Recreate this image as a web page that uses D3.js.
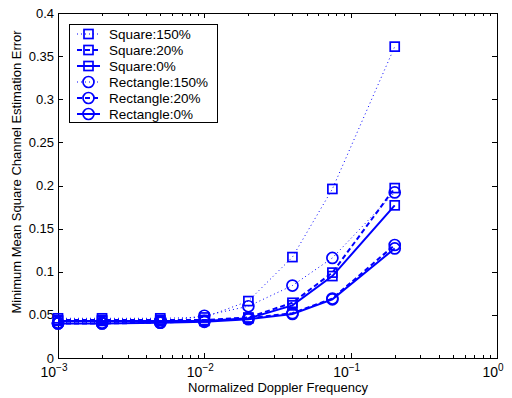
<!DOCTYPE html>
<html>
<head>
<meta charset="utf-8">
<script src="https://cdn.jsdelivr.net/npm/d3@7"></script>
<style>
  body { margin: 0; background: #fff; }
  text { font-family: "Liberation Sans", Arial, sans-serif; fill: #000; }
</style>
</head>
<body>
<div class="chart"></div>
<script>
const dopplerFreq = [0.001, 0.002, 0.005, 0.01, 0.02, 0.04, 0.075, 0.2];

const square150 = [0.046, 0.046, 0.046, 0.047, 0.066, 0.117, 0.196, 0.361];
const square20 = [0.044, 0.044, 0.044, 0.044, 0.047, 0.064, 0.099, 0.197];
const square0 = [0.043, 0.043, 0.043, 0.043, 0.046, 0.061, 0.095, 0.177];
const rect150 = [0.041, 0.041, 0.042, 0.049, 0.060, 0.084, 0.116, 0.192];
const rect20 = [0.040, 0.040, 0.041, 0.043, 0.046, 0.052, 0.069, 0.131];
const rect0 = [0.040, 0.040, 0.041, 0.042, 0.045, 0.051, 0.068, 0.127];

const seriesNames = ['Square:150%', 'Square:20%', 'Square:0%', 'Rectangle:150%', 'Rectangle:20%', 'Rectangle:0%'];
const seriesValues = [square150, square20, square0, rect150, rect20, rect0];
const seriesMarker = ['square', 'square', 'square', 'circle', 'circle', 'circle'];
const seriesDash = ['1,3', '5,3', null, '1,3', '5,3', null];

const yTicks = [0, 0.05, 0.1, 0.15, 0.2, 0.25, 0.3, 0.35, 0.4];
const xDecades = [-3, -2, -1, 0];

const width = 512, height = 398;
const margin = { left: 58, right: 15, top: 13, bottom: 40 };
const blue = '#0000ff';

const svg = d3.select('.chart')
    .append('svg')
    .attr('width', width)
    .attr('height', height);

const x = d3.scaleLog()
    .domain([0.001, 1])
    .range([margin.left, width - margin.right]);

const y = d3.scaleLinear()
    .domain([0, 0.4])
    .range([height - margin.bottom, margin.top]);

const x0 = x.range()[0], x1 = x.range()[1];
const y0 = y.range()[0], y1 = y.range()[1];

// minor ticks for the log axis
const minorTicks = [];
xDecades.slice(0, -1).forEach(p => {
    for (let k = 2; k <= 9; k++) minorTicks.push(k * Math.pow(10, p));
});

const axes = svg.append('g').attr('stroke', '#000').attr('stroke-width', 1);

minorTicks.forEach(v => {
    const px = Math.round(x(v)) + 0.5;
    axes.append('line').attr('x1', px).attr('x2', px).attr('y1', y0).attr('y2', y0 - 3);
    axes.append('line').attr('x1', px).attr('x2', px).attr('y1', y1).attr('y2', y1 + 3);
});
xDecades.forEach(p => {
    const px = Math.round(x(Math.pow(10, p))) + 0.5;
    axes.append('line').attr('x1', px).attr('x2', px).attr('y1', y0).attr('y2', y0 - 5);
    axes.append('line').attr('x1', px).attr('x2', px).attr('y1', y1).attr('y2', y1 + 5);
});
yTicks.forEach(v => {
    const py = Math.round(y(v)) + 0.5;
    axes.append('line').attr('x1', x0).attr('x2', x0 + 5).attr('y1', py).attr('y2', py);
    axes.append('line').attr('x1', x1).attr('x2', x1 - 5).attr('y1', py).attr('y2', py);
});

axes.append('rect')
    .attr('x', x0 + 0.5).attr('y', y1 + 0.5)
    .attr('width', x1 - x0).attr('height', y0 - y1)
    .attr('fill', 'none');

// tick labels
svg.append('g').selectAll('text')
    .data(yTicks)
    .enter().append('text')
    .attr('x', x0 - 4)
    .attr('y', d => y(d) + 4.5)
    .attr('text-anchor', 'end')
    .style('font-size', '13px')
    .text(d => d3.format('~g')(d));

const xl = svg.append('g').selectAll('text')
    .data(xDecades)
    .enter().append('text')
    .attr('x', d => x(Math.pow(10, d)) - 4)
    .attr('y', y0 + 19)
    .attr('text-anchor', 'middle')
    .style('font-size', '14px');
xl.append('tspan').text('10');
xl.append('tspan').attr('dy', -6).style('font-size', '10px')
    .text(d => d === 0 ? '0' : '\u2212' + (-d));

svg.append('text')
    .attr('x', 278)
    .attr('y', height - 6)
    .attr('text-anchor', 'middle')
    .style('font-size', '13px')
    .text('Normalized Doppler Frequency');

svg.append('text')
    .attr('transform', 'translate(21,172) rotate(-90)')
    .attr('text-anchor', 'middle')
    .style('font-size', '13px')
    .text('Minimum Mean Square Channel Estimation Error');

// series
const line = d3.line()
    .x(d => x(d[0]))
    .y(d => y(d[1]));

function drawMarker(g, type, cx, cy) {
    if (type === 'square') {
        g.append('rect')
            .attr('x', cx - 4.5).attr('y', cy - 4.5)
            .attr('width', 9).attr('height', 9)
            .attr('fill', 'none').attr('stroke', blue).attr('stroke-width', 1.7);
    } else {
        g.append('circle')
            .attr('cx', cx).attr('cy', cy).attr('r', 5.5)
            .attr('fill', 'none').attr('stroke', blue).attr('stroke-width', 1.7);
    }
}

const plot = svg.append('g');
seriesValues.forEach((vals, i) => {
    const pts = dopplerFreq.map((f, j) => [f, vals[j]]);
    plot.append('path')
        .datum(pts)
        .attr('d', line)
        .attr('fill', 'none')
        .attr('stroke', blue)
        .attr('stroke-width', seriesDash[i] === '1,3' ? 1 : 2)
        .attr('stroke-dasharray', seriesDash[i]);
    pts.forEach(p => drawMarker(plot, seriesMarker[i], x(p[0]), y(p[1])));
});

// legend
const legend = svg.append('g');
legend.append('rect')
    .attr('x', 69.5).attr('y', 24.5)
    .attr('width', 148).attr('height', 98)
    .attr('fill', '#fff').attr('stroke', '#000').attr('stroke-width', 1);

seriesNames.forEach((name, i) => {
    const ly = 34 + i * 16;
    legend.append('line')
        .attr('x1', 77).attr('x2', 100)
        .attr('y1', ly).attr('y2', ly)
        .attr('stroke', blue)
        .attr('stroke-width', seriesDash[i] === '1,3' ? 1 : 2)
        .attr('stroke-dasharray', seriesDash[i]);
    drawMarker(legend, seriesMarker[i], 88.5, ly);
    legend.append('text')
        .attr('x', 109)
        .attr('y', ly + 5)
        .style('font-size', '13.5px')
        .text(name);
});
</script>
</body>
</html>
